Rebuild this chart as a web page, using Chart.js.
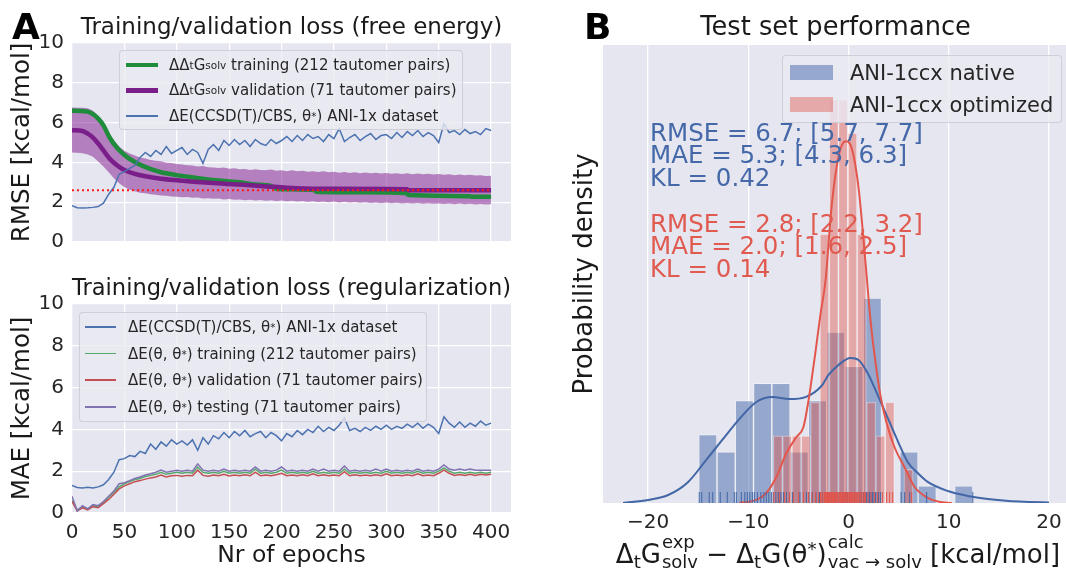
<!DOCTYPE html>
<html>
<head>
<meta charset="utf-8">
<script src="https://cdn.jsdelivr.net/npm/chart.js@4.4.0/dist/chart.umd.min.js"></script>
<style>
  html, body { margin: 0; padding: 0; background: #fff; overflow: hidden; }
  #fig { position: relative; width: 1066px; height: 570px; overflow: hidden; font-family: 'DejaVu Sans', sans-serif; color: #262626; }
  canvas { position: absolute; }
  .lab { position: absolute; font-weight: bold; font-size: 36px; line-height: 36px; color: #000; }
  .leg { position: absolute; box-sizing: border-box; background: rgba(234,234,242,0.8); border: 1px solid rgba(204,204,214,0.9); border-radius: 4px; }
  .row { display: flex; align-items: center; white-space: nowrap; }
  .sw { display: inline-block; flex: none; }
  sub { font-size: 0.7em; line-height: 0; vertical-align: -0.25em; }
  sup { font-size: 0.7em; line-height: 0; vertical-align: 0.45em; }
  .st { display: inline-flex; flex-direction: column; font-size: 18px; line-height: 20px; vertical-align: 15px; text-align: left; margin-left: 1px; }
  .stats { position: absolute; left: 650px; font-size: 24.5px; line-height: 22.5px; white-space: nowrap; }
</style>
</head>
<body>
<div id="fig">
  <canvas id="cA1" width="530" height="262" style="left:0;top:0"></canvas>
  <canvas id="cA2" width="530" height="300" style="left:0;top:270px"></canvas>
  <canvas id="cB" width="520" height="570" style="left:560px;top:0"></canvas>

  <div class="lab" style="left:12px;top:9px">A</div>
  <div class="lab" style="left:584px;top:9px">B</div>

  <div class="leg" style="left:119px;top:50px;width:344px;height:80px;padding-top:1px;font-size:15px">
    <div class="row" style="height:25.5px"><span class="sw" style="width:32px;height:4.5px;background:#1f8c3b;margin:0 11px 0 6px"></span>ΔΔ<sub>t</sub>G<sub>solv</sub>&nbsp;training (212 tautomer pairs)</div>
    <div class="row" style="height:25.5px"><span class="sw" style="width:32px;height:4.5px;background:#7a1f8a;margin:0 11px 0 6px"></span>ΔΔ<sub>t</sub>G<sub>solv</sub>&nbsp;validation (71 tautomer pairs)</div>
    <div class="row" style="height:25.5px"><span class="sw" style="width:32px;height:1.5px;background:#4c72b0;margin:0 11px 0 6px"></span>ΔE(CCSD(T)/CBS, θ<sup>*</sup>) ANI-1x dataset</div>
  </div>

  <div class="leg" style="left:79px;top:312px;width:348px;height:110px;padding-top:0.5px;font-size:15px">
    <div class="row" style="height:26.7px"><span class="sw" style="width:31px;height:1.5px;background:#4c72b0;margin:0 12px 0 5px"></span>ΔE(CCSD(T)/CBS, θ<sup>*</sup>) ANI-1x dataset</div>
    <div class="row" style="height:26.7px"><span class="sw" style="width:31px;height:1.5px;background:#55a868;margin:0 12px 0 5px"></span>ΔE(θ, θ<sup>*</sup>) training (212 tautomer pairs)</div>
    <div class="row" style="height:26.7px"><span class="sw" style="width:31px;height:1.5px;background:#c44e52;margin:0 12px 0 5px"></span>ΔE(θ, θ<sup>*</sup>) validation (71 tautomer pairs)</div>
    <div class="row" style="height:26.7px"><span class="sw" style="width:31px;height:1.5px;background:#8172b2;margin:0 12px 0 5px"></span>ΔE(θ, θ<sup>*</sup>) testing (71 tautomer pairs)</div>
  </div>

  <div class="leg" style="left:782px;top:55px;width:280px;height:68px;padding-top:0.5px;font-size:21px">
    <div class="row" style="height:32px"><span class="sw" style="width:43px;height:15px;background:rgba(68,104,168,0.5);margin:0 17px 0 7px"></span>ANI-1ccx native</div>
    <div class="row" style="height:32px"><span class="sw" style="width:43px;height:15px;background:rgba(224,90,80,0.45);margin:0 17px 0 7px"></span>ANI-1ccx optimized</div>
  </div>

  <div class="stats" style="top:121.5px;color:#4468a8">RMSE = 6.7; [5.7, 7.7]<br>MAE = 5.3; [4.3, 6.3]<br>KL = 0.42</div>
  <div class="stats" style="top:212.5px;color:#e05a50">RMSE = 2.8; [2.2, 3.2]<br>MAE = 2.0; [1.6, 2.5]<br>KL = 0.14</div>

  <div style="position:absolute;left:580px;width:516px;top:532px;text-align:center;font-size:26px;line-height:26px;white-space:nowrap;color:#1a1a1a">Δ<sub>t</sub>G<span class="st"><span>exp</span><span>solv</span></span> − Δ<sub>t</sub>G(θ<sup>*</sup>)<span class="st"><span>calc</span><span>vac → solv</span></span> [kcal/mol]</div>
</div>

<script>
// ---- panel A: training curves (sampled every 5 epochs)
const epochs = [0,5,10,15,20,25,30,35,40,45,50,55,60,65,70,75,80,85,90,95,100,105,110,115,120,125,130,135,140,145,150,155,160,165,170,175,180,185,190,195,200,205,210,215,220,225,230,235,240,245,250,255,260,265,270,275,280,285,290,295,300,305,310,315,320,325,330,335,340,345,350,355,360,365,370,375,380,385,390,395,400];

const aniRmse = [1.82,1.72,1.71,1.72,1.74,1.78,1.95,2.4,2.75,3.4,3.55,3.7,3.85,4.25,4.5,4.3,4.6,4.4,4.8,4.45,4.6,4.75,4.4,4.65,4.5,3.95,4.65,4.9,4.6,5.1,4.85,5.15,4.9,5.1,4.8,5.15,4.95,4.85,5.15,4.95,5.1,5.3,5.05,5.35,5.1,5.4,5.2,5.3,5.05,5.4,5.2,5.7,5.05,5.25,5.4,5.1,5.3,5.45,5.15,5.35,5.4,5.2,5.5,5.25,5.55,5.35,5.6,5.3,5.5,5.35,5.0,5.95,5.5,5.6,5.4,5.65,5.45,5.55,5.4,5.7,5.6];
const bandHigh = [6.76,6.74,6.75,6.72,6.6,6.35,6.0,5.5,5.1,4.8,4.58,4.45,4.35,4.24,4.2,4.12,4.08,4.06,3.98,3.97,3.92,3.9,3.86,3.84,3.8,3.82,3.76,3.75,3.72,3.74,3.68,3.7,3.66,3.67,3.62,3.66,3.62,3.6,3.64,3.58,3.6,3.56,3.6,3.55,3.58,3.53,3.56,3.52,3.55,3.5,3.53,3.48,3.52,3.47,3.5,3.46,3.49,3.45,3.48,3.44,3.47,3.43,3.46,3.42,3.45,3.41,3.44,3.4,3.43,3.39,3.42,3.38,3.41,3.36,3.39,3.35,3.38,3.34,3.36,3.32,3.33];
const bandLow = [4.5,4.48,4.46,4.4,4.28,4.05,3.8,3.5,3.2,2.95,2.76,2.62,2.55,2.48,2.45,2.4,2.38,2.34,2.33,2.29,2.28,2.25,2.26,2.22,2.23,2.19,2.2,2.17,2.18,2.14,2.16,2.12,2.14,2.1,2.12,2.09,2.11,2.07,2.1,2.06,2.08,2.05,2.07,2.03,2.06,2.02,2.05,2.01,2.04,2.0,2.03,1.99,2.02,1.98,2.01,1.97,2.0,1.96,1.99,1.95,1.98,1.95,1.97,1.94,1.96,1.93,1.96,1.92,1.95,1.92,1.94,1.91,1.93,1.9,1.93,1.9,1.92,1.89,1.91,1.89,1.9];

const trainEpochs = [0,10,15,20,25,30,36,44,52,60,68,76,84,100,116,132,148,164,172,190,196,232,233,280,320,321,380,381,400];
const trainRmse = [6.6,6.58,6.55,6.43,6.2,5.86,5.24,4.67,4.29,4.02,3.81,3.65,3.52,3.36,3.24,3.13,3.05,2.97,2.9,2.82,2.66,2.6,2.53,2.5,2.45,2.36,2.3,2.27,2.27];
const validEpochs = [0,10,15,20,25,30,35,40,45,50,60,70,85,100,116,148,180,214,250,320,321,400];
const validRmse = [5.62,5.58,5.45,5.25,4.95,4.6,4.25,3.98,3.78,3.62,3.42,3.3,3.18,3.1,3.03,2.92,2.82,2.7,2.67,2.65,2.6,2.6];
const refRmse = 2.6;

const aniMae = [1.32,1.22,1.2,1.23,1.2,1.25,1.35,1.6,1.95,2.55,2.6,2.75,2.7,2.95,2.85,3.3,3.05,3.4,3.2,3.5,3.3,3.45,3.25,3.5,3.0,3.6,3.3,3.7,3.55,3.85,3.6,3.9,3.7,3.95,3.65,3.8,3.9,3.6,3.85,3.7,3.45,3.8,3.65,3.95,3.75,4.0,3.85,4.15,3.9,4.1,3.95,4.2,4.55,3.95,4.05,3.9,4.1,3.95,4.15,4.0,4.2,4.0,4.15,4.05,4.25,4.1,4.3,4.05,4.25,4.1,3.8,4.6,4.3,4.1,4.35,4.1,4.3,4.15,4.4,4.2,4.3];
const trainMae = [0.6,0.15,0.3,0.2,0.35,0.3,0.5,0.75,1.0,1.25,1.4,1.5,1.6,1.65,1.75,1.8,1.85,1.95,1.85,1.9,1.95,1.9,1.95,1.9,2.2,1.95,1.9,1.95,1.9,2.0,1.9,1.95,1.9,1.95,1.9,2.1,1.9,1.95,1.9,1.95,2.05,1.9,1.95,1.9,1.95,1.9,2.0,1.9,1.95,1.9,1.95,1.9,2.1,1.9,1.95,1.9,1.95,1.9,1.95,1.9,2.0,1.9,1.95,1.9,1.95,1.9,2.0,1.9,1.95,1.9,2.0,2.15,2.0,1.9,1.95,1.9,1.95,1.9,1.95,1.9,1.95];
const validMae = [0.55,0.1,0.25,0.15,0.3,0.25,0.45,0.65,0.9,1.15,1.3,1.4,1.5,1.55,1.62,1.68,1.72,1.82,1.72,1.78,1.8,1.76,1.8,1.78,2.05,1.8,1.76,1.82,1.78,1.85,1.77,1.82,1.78,1.83,1.78,1.95,1.78,1.82,1.78,1.83,1.9,1.78,1.82,1.78,1.83,1.78,1.88,1.78,1.83,1.78,1.82,1.78,1.98,1.78,1.83,1.78,1.82,1.78,1.83,1.78,1.88,1.78,1.82,1.78,1.83,1.78,1.88,1.78,1.82,1.78,1.9,2.05,1.9,1.8,1.84,1.8,1.85,1.8,1.85,1.82,1.85];
const testMae = [0.8,0.1,0.35,0.2,0.4,0.35,0.55,0.8,1.05,1.4,1.45,1.55,1.65,1.72,1.82,1.88,1.95,2.05,1.95,2.0,2.05,2.0,2.05,2.0,2.35,2.05,2.0,2.05,2.0,2.1,2.0,2.05,2.0,2.05,2.0,2.2,2.0,2.05,2.0,2.05,2.2,2.0,2.05,2.0,2.05,2.0,2.1,2.0,2.1,2.0,2.05,2.0,2.25,2.0,2.05,2.0,2.05,2.0,2.1,2.0,2.1,2.0,2.05,2.0,2.05,2.0,2.1,2.0,2.05,2.0,2.1,2.3,2.1,2.05,2.1,2.05,2.1,2.05,2.05,2.05,2.05];

// ---- panel B: test set errors
const nativeBins = [-14.04,-12.21,-10.39,-8.57,-6.74,-4.92,-3.09,-1.27,0.55,2.38,4.2,6.03,7.85,9.67,11.5];
const nativeCounts = [4,3,6,7,7,3,6,10,8,12,0,3,1,0,1];
const optBins = [-7.05,-6.12,-5.19,-4.26,-3.33,-2.4,-1.47,-0.54,0.39,1.32,2.26,3.19,4.12,5.05,5.98];
const optCounts = [2,2,2,2,3,8,12,12,11,8,3,2,3,0,1];

const nativeKdeX = [-22.5,-20,-18,-16,-14.2,-12.6,-10.9,-9.2,-7.6,-5.9,-4.3,-2.7,-2,-1,0.2,1,2,3,4,5,5.9,6.9,7.9,9.9,11.9,13.9,16,18,20];
const nativeKdeY = [0,0.0014,0.0036,0.0095,0.0194,0.0284,0.0378,0.0455,0.0477,0.0468,0.0477,0.0527,0.0577,0.0622,0.0653,0.0644,0.0577,0.0477,0.0374,0.027,0.0185,0.0135,0.0095,0.0054,0.0032,0.0018,0.0009,0.0005,0.0002];
const optKdeX = [-10.9,-9.2,-8.2,-7.2,-6.2,-5.2,-4.5,-4,-3.3,-2.8,-2.3,-1.7,-1,-0.3,0.3,1,1.7,2.2,2.7,3.2,3.8,4.6,5.6,6.6,7.9,9,10.3];
const optKdeY = [0,0.0014,0.0045,0.0117,0.0225,0.0297,0.0342,0.046,0.068,0.085,0.1,0.133,0.156,0.163,0.16,0.142,0.108,0.082,0.063,0.048,0.036,0.025,0.016,0.0072,0.0023,0.0006,0];

const nativeRug = [-14.9,-14.65,-13.9,-13.55,-12.8,-12.1,-11.4,-11.2,-10.7,-10.35,-10.1,-9.85,-9.6,-9.4,-9.1,-8.75,-8.45,-8.2,-7.95,-7.7,-7.5,-7.25,-7.0,-6.75,-6.5,-6.2,-5.9,-5.6,-4.85,-4.2,-3.95,-3.6,-3.25,-2.9,-2.6,-2.3,-2.1,-1.9,-1.7,-1.5,-1.35,-1.15,-0.95,-0.75,-0.6,-0.45,-0.3,-0.1,0.1,0.3,0.6,0.85,1.1,1.3,1.5,1.65,1.8,1.95,2.1,2.25,2.4,2.55,2.7,2.85,3.0,3.2,5.25,5.6,6.1,7.8,12.4];
const optRug = [-7.45,-6.9,-6.4,-5.9,-5.5,-5.0,-4.5,-4.0,-3.65,-3.3,-3.0,-2.8,-2.65,-2.55,-2.4,-2.3,-2.2,-2.1,-2.0,-1.9,-1.82,-1.75,-1.68,-1.6,-1.5,-1.42,-1.35,-1.28,-1.2,-1.12,-1.05,-0.95,-0.88,-0.8,-0.72,-0.65,-0.58,-0.5,-0.42,-0.35,-0.28,-0.2,-0.12,-0.02,0.08,0.15,0.22,0.3,0.38,0.46,0.54,0.62,0.7,0.8,0.92,1.02,1.12,1.22,1.34,1.46,1.58,1.7,1.95,2.25,2.6,2.9,3.4,3.8,4.1,4.4,6.3];

Chart.defaults.font.family = "'DejaVu Sans', sans-serif";
Chart.defaults.color = '#262626';

const BG = '#E6E6F0';
const areaBg = {
  id: 'areaBg',
  beforeDraw(chart) {
    const { ctx, chartArea: a } = chart;
    ctx.save();
    ctx.fillStyle = BG;
    ctx.fillRect(a.left, a.top, a.width, a.height);
    ctx.restore();
  }
};

const pts = (xs, ys) => xs.map((x, i) => ({ x: x, y: ys[i] }));
const grid = { color: '#ffffff', lineWidth: 1.3, drawTicks: false };

// top left: free energy loss
new Chart(document.getElementById('cA1'), {
  type: 'line',
  data: {
    datasets: [
      { data: pts(epochs, bandLow), borderWidth: 0, pointRadius: 0, fill: false, order: 6 },
      { data: pts(epochs, bandHigh), borderWidth: 0, pointRadius: 0, fill: '-1', backgroundColor: 'rgba(128,24,140,0.5)', order: 5 },
      { data: pts(trainEpochs, trainRmse), borderColor: '#1f8c3b', borderWidth: 4.5, pointRadius: 0, cubicInterpolationMode: 'monotone', order: 4 },
      { data: pts(validEpochs, validRmse), borderColor: '#7a1f8a', borderWidth: 4.5, pointRadius: 0, cubicInterpolationMode: 'monotone', order: 3 },
      { data: pts(epochs, aniRmse), borderColor: '#4c72b0', borderWidth: 1.5, pointRadius: 0, order: 2 },
      { data: [{ x: 0, y: refRmse }, { x: 400, y: refRmse }], borderColor: '#ff1a1a', borderWidth: 2, borderDash: [2, 3], pointRadius: 0, order: 1 }
    ]
  },
  options: {
    responsive: false,
    animation: false,
    layout: { padding: { left: 0, right: 19, top: 0, bottom: 9 } },
    plugins: {
      legend: { display: false },
      tooltip: { enabled: false },
      title: { display: true, text: 'Training/validation loss (free energy)', fullSize: false, color: '#1a1a1a',
               font: { size: 23, weight: 'normal' }, padding: { top: 14.7, bottom: 0.7 } }
    },
    scales: {
      x: { type: 'linear', min: 0, max: 419, grid: grid, border: { display: false },
           ticks: { display: false, stepSize: 50, includeBounds: false },
           afterFit(s) { s.height = 0; } },
      y: { min: 0, max: 10, grid: grid, border: { display: false },
           ticks: { stepSize: 2, padding: 8, font: { size: 20 }, color: '#262626' },
           title: { display: true, text: 'RMSE [kcal/mol]', font: { size: 24.5 }, color: '#1a1a1a', padding: { top: 8.3, bottom: 0 } },
           afterFit(s) { s.width = 72; } }
    }
  },
  plugins: [areaBg]
});

// bottom left: regularization loss
new Chart(document.getElementById('cA2'), {
  type: 'line',
  data: {
    datasets: [
      { data: pts(epochs, aniMae), borderColor: '#4c72b0', borderWidth: 1.5, pointRadius: 0, order: 4 },
      { data: pts(epochs, trainMae), borderColor: '#55a868', borderWidth: 1.5, pointRadius: 0, order: 3 },
      { data: pts(epochs, validMae), borderColor: '#c44e52', borderWidth: 1.5, pointRadius: 0, order: 2 },
      { data: pts(epochs, testMae), borderColor: '#8172b2', borderWidth: 1.5, pointRadius: 0, order: 1 }
    ]
  },
  options: {
    responsive: false,
    animation: false,
    layout: { padding: { left: 0, right: 19, top: 0, bottom: 0 } },
    plugins: {
      legend: { display: false },
      tooltip: { enabled: false },
      title: { display: true, text: 'Training/validation loss (regularization)', fullSize: false, color: '#1a1a1a',
               font: { size: 23, weight: 'normal' }, padding: { top: 5.2, bottom: 1.2 } }
    },
    scales: {
      x: { type: 'linear', min: 0, max: 419, grid: grid, border: { display: false },
           ticks: { stepSize: 50, includeBounds: false, padding: 7.5, font: { size: 20 }, color: '#262626', maxRotation: 0 },
           title: { display: true, text: 'Nr of epochs', font: { size: 23.5 }, color: '#1a1a1a', padding: { top: 0, bottom: 0 } },
           afterFit(s) { s.height = 57; } },
      y: { min: 0, max: 10, grid: grid, border: { display: false },
           ticks: { stepSize: 2, padding: 8, font: { size: 20 }, color: '#262626' },
           title: { display: true, text: 'MAE [kcal/mol]', font: { size: 24.5 }, color: '#1a1a1a', padding: { top: 8.3, bottom: 0 } },
           afterFit(s) { s.width = 72; } }
    }
  },
  plugins: [areaBg]
});

// right: test set distributions
const nSamples = nativeRug.length;
const nativeW = nativeBins[1] - nativeBins[0];
const optW = optBins[1] - optBins[0];
const toDensity = (bins, counts, w) => bins.map((x, i) => ({ x: x, y: counts[i] / (nSamples * w) }));

new Chart(document.getElementById('cB'), {
  type: 'bar',
  data: {
    datasets: [
      { type: 'bar', data: toDensity(nativeBins, nativeCounts, nativeW), xAxisID: 'x',
        backgroundColor: 'rgba(68,104,168,0.5)', borderColor: 'rgba(255,255,255,0.35)', borderWidth: 1,
        barPercentage: 1, categoryPercentage: 1, grouped: false, order: 6 },
      { type: 'bar', data: toDensity(optBins, optCounts, optW), xAxisID: 'x2',
        backgroundColor: 'rgba(224,90,80,0.45)', borderColor: 'rgba(255,255,255,0.35)', borderWidth: 1,
        barPercentage: 1, categoryPercentage: 1, grouped: false, order: 5 },
      { type: 'line', data: pts(nativeKdeX, nativeKdeY), xAxisID: 'x', borderColor: '#4266a6', borderWidth: 2,
        pointRadius: 0, cubicInterpolationMode: 'monotone', order: 4 },
      { type: 'line', data: pts(optKdeX, optKdeY), xAxisID: 'x', borderColor: '#e2564c', borderWidth: 2,
        pointRadius: 0, cubicInterpolationMode: 'monotone', order: 3 },
      { type: 'scatter', data: nativeRug.map(v => ({ x: v, y: 0 })), xAxisID: 'x', showLine: false, clip: 0,
        pointStyle: 'line', pointRotation: 90, pointRadius: 11, pointBorderColor: '#4266a6', pointBorderWidth: 1, order: 2 },
      { type: 'scatter', data: optRug.map(v => ({ x: v, y: 0 })), xAxisID: 'x', showLine: false, clip: 0,
        pointStyle: 'line', pointRotation: 90, pointRadius: 11, pointBorderColor: '#e2564c', pointBorderWidth: 1, order: 1 }
    ]
  },
  options: {
    responsive: false,
    animation: false,
    layout: { padding: { left: 0, right: 9, top: 0, bottom: 0 } },
    plugins: {
      legend: { display: false },
      tooltip: { enabled: false },
      title: { display: true, text: 'Test set performance', fullSize: false, color: '#1a1a1a',
               font: { size: 25.7, weight: 'normal' }, padding: { top: 13.1, bottom: 1.06 } }
    },
    scales: {
      x: { type: 'linear', min: -24.5, max: 21.9, offset: false, grid: { color: '#ffffff', lineWidth: 1.3, drawTicks: false, offset: false },
           border: { display: false },
           ticks: { stepSize: 10, includeBounds: false, padding: 8, font: { size: 20 }, color: '#262626', maxRotation: 0,
                    callback: v => String(v).replace('-', '\u2212') },
           afterFit(s) { s.height = 67; } },
      x2: { type: 'linear', min: -24.5, max: 21.9, offset: false, display: false, grid: { offset: false } },
      y: { min: 0, max: 0.2063, grid: { display: false }, border: { display: false },
           ticks: { display: false },
           title: { display: true, text: 'Probability density', font: { size: 26 }, color: '#1a1a1a', padding: { top: 9.4, bottom: 0 } },
           afterFit(s) { s.width = 43; } }
    }
  },
  plugins: [areaBg]
});
</script>
</body>
</html>
